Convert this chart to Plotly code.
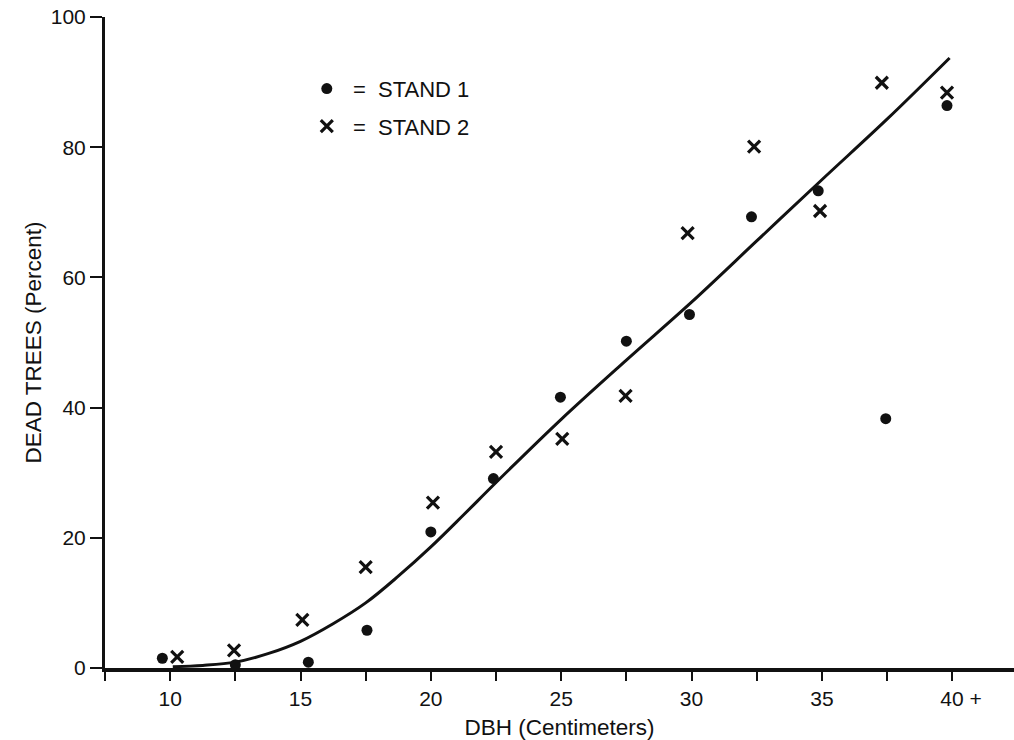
import plotly.graph_objects as go

# Percentage of dead trees by diameter class (DBH, cm)
stand1_dbh = [9.7, 12.5, 15.3, 17.55, 20.0, 22.4, 24.97, 27.5, 29.92, 32.3, 34.86, 37.45, 39.8]
stand1_dead = [1.5, 0.5, 0.9, 5.8, 20.9, 29.1, 41.6, 50.2, 54.3, 69.3, 73.3, 38.3, 86.4]

stand2_dbh = [10.27, 12.45, 15.07, 17.5, 20.08, 22.5, 25.04, 27.47, 29.85, 32.4, 34.93, 37.3, 39.8]
stand2_dead = [1.7, 2.7, 7.4, 15.5, 25.4, 33.2, 35.2, 41.8, 66.8, 80.1, 70.2, 89.9, 88.4]

# Fitted mortality curve
fit_dbh = [10.1, 11.25, 12.5, 13.75, 15.0, 16.25, 17.5, 18.75, 20.0, 21.25, 22.5,
           25.0, 27.5, 30.0, 32.5, 35.0, 37.5, 39.9]
fit_dead = [0.2, 0.4, 0.9, 2.2, 4.1, 6.8, 10.0, 14.1, 18.6, 23.5, 28.5,
            38.2, 47.3, 56.2, 65.6, 75.0, 84.3, 93.7]

x_tickvals = [7.5, 10, 12.5, 15, 17.5, 20, 22.5, 25, 27.5, 30, 32.5, 35, 37.5, 40]
x_ticktext = ["", "10", "", "15", "", "20", "", "25", "", "30", "", "35", "",
              "\u00a0\u00a0\u00a040 +"]
y_tickvals = [0, 20, 40, 60, 80, 100]

INK = "#111111"
FONT = "Arial, Liberation Sans, Helvetica, sans-serif"
NB = "\u00a0"

fig = go.Figure()

fig.add_trace(go.Scatter(
    x=fit_dbh, y=fit_dead, mode="lines",
    line=dict(color=INK, width=3, shape="spline", smoothing=1.0),
    showlegend=False, hoverinfo="skip", cliponaxis=False,
))

fig.add_trace(go.Scatter(
    x=stand1_dbh, y=stand1_dead, mode="markers",
    name=NB + "=" + NB + NB + "STAND 1", legendgroup="s1",
    marker=dict(symbol="circle", size=11, color=INK),
    cliponaxis=False,
))

fig.add_trace(go.Scatter(
    x=stand2_dbh, y=stand2_dead, mode="markers",
    name=NB + "=" + NB + NB + "STAND 2", legendgroup="s2",
    marker=dict(symbol="x-thin", size=12, color=INK,
                line=dict(color=INK, width=3.2)),
    cliponaxis=False,
))

fig.update_layout(
    width=1014, height=740,
    margin=dict(l=105, r=0, t=17, b=72),
    paper_bgcolor="white", plot_bgcolor="white",
    font=dict(family=FONT, size=21, color=INK),
    legend=dict(
        x=0.222, y=0.922, xanchor="left", yanchor="top",
        font=dict(size=22, color=INK),
        bgcolor="rgba(0,0,0,0)",
        tracegroupgap=6,
        traceorder="grouped",
        itemwidth=30,
    ),
    xaxis=dict(
        range=[7.5, 42.37],
        tickmode="array", tickvals=x_tickvals, ticktext=x_ticktext,
        ticks="outside", ticklen=9, tickwidth=2, tickcolor=INK,
        showline=True, linecolor=INK, linewidth=3.5,
        showgrid=False, zeroline=False,
        tickfont=dict(size=21, color=INK),
        title=dict(text="DBH (Centimeters)", font=dict(size=22.5, color=INK), standoff=12),
    ),
    yaxis=dict(
        range=[0, 100],
        tickmode="array", tickvals=y_tickvals,
        ticks="outside", ticklen=12, tickwidth=2, tickcolor=INK,
        showline=True, linecolor=INK, linewidth=3,
        showgrid=False, zeroline=False,
        tickfont=dict(size=21, color=INK),
        title=dict(text="DEAD TREES (Percent)", font=dict(size=22.5, color=INK), standoff=3),
    ),
)

fig.write_html("out.html")
